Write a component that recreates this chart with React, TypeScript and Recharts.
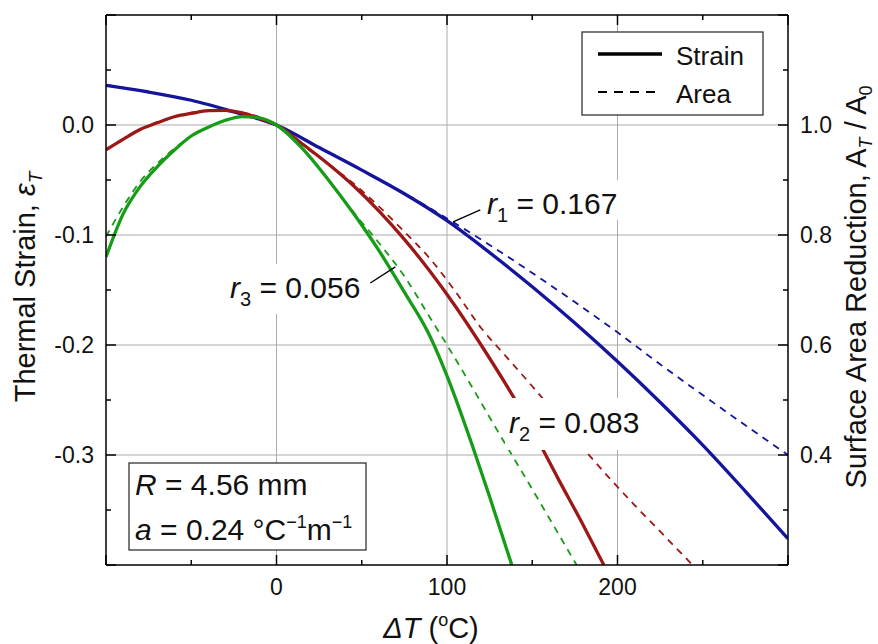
import { CartesianGrid, Line, LineChart, ReferenceLine, XAxis, YAxis } from 'recharts';

// ΔT grid and values, one pair of arrays per curve
const r1StrainT = [-100, -75, -50, -25, 0, 25, 50, 75, 100, 125, 150, 175, 200, 225, 250, 275, 300];
const r1Strain = [0.036, 0.03, 0.0225, 0.012, 0, -0.0205, -0.041, -0.0625, -0.087, -0.116, -0.147, -0.18, -0.215, -0.252, -0.291, -0.333, -0.376];
const r1AreaT = [-100, -75, -50, -25, 0, 25, 50, 75, 100, 125, 150, 175, 200, 225, 250, 275, 300];
const r1Area = [1.073, 1.06, 1.045, 1.024, 1.0, 0.959, 0.918, 0.876, 0.83, 0.782, 0.731, 0.678, 0.623, 0.565, 0.509, 0.454, 0.4];

const r2StrainT = [-100, -90, -80, -70, -60, -50, -40, -30, -20, -10, 0, 15, 30, 45, 60, 75, 90, 105, 120, 135, 150, 165, 180, 192];
const r2Strain = [-0.0225, -0.013, -0.004, 0.002, 0.0075, 0.0105, 0.013, 0.0133, 0.011, 0.006, 0, -0.017, -0.035, -0.055, -0.078, -0.104, -0.133, -0.165, -0.2, -0.237, -0.277, -0.321, -0.364, -0.4];
const r2AreaT = [-100, -80, -60, -40, -20, 0, 15, 30, 45, 60, 75, 90, 105, 120, 135, 150, 165, 180, 195, 210, 225, 244];
const r2Area = [0.955, 0.992, 1.015, 1.026, 1.022, 1.0, 0.964, 0.93, 0.894, 0.852, 0.806, 0.757, 0.697, 0.631, 0.578, 0.525, 0.47, 0.412, 0.359, 0.309, 0.261, 0.2];

const r3StrainT = [-100, -90, -80, -70, -60, -50, -40, -30, -20, -10, 0, 15, 30, 45, 60, 75, 90, 100, 115, 125, 138];
const r3Strain = [-0.12, -0.081, -0.056, -0.038, -0.023, -0.01, -0.002, 0.0043, 0.0077, 0.0065, 0, -0.021, -0.049, -0.08, -0.114, -0.152, -0.192, -0.228, -0.292, -0.338, -0.4];
const r3AreaT = [-100, -90, -80, -70, -60, -50, -40, -30, -20, -10, 0, 15, 30, 45, 60, 75, 90, 100, 115, 130, 145, 160, 176];
const r3Area = [0.797, 0.851, 0.897, 0.93, 0.957, 0.98, 0.996, 1.009, 1.015, 1.013, 1.0, 0.958, 0.903, 0.842, 0.786, 0.725, 0.65, 0.6, 0.522, 0.442, 0.364, 0.285, 0.2];

const xTicks = [-100, -50, 0, 50, 100, 150, 200, 250, 300];
const xLabels = [0, 100, 200];
const strainTicks = [-0.4, -0.35, -0.3, -0.25, -0.2, -0.15, -0.1, -0.05, 0, 0.05, 0.1];
const strainLabels = ['0.0', '-0.1', '-0.2', '-0.3'];
const areaTicks = [0.2, 0.3, 0.4, 0.5, 0.6, 0.7, 0.8, 0.9, 1.0, 1.1, 1.2];
const areaLabels = ['0.4', '0.6', '0.8', '1.0'];

const BLUE = '#14149c';
const RED = '#9e1717';
const GREEN = '#169c16';
const FONT = '"Liberation Sans", Arial, Helvetica, sans-serif';

const pts = (t: number[], v: number[]) => t.map((x, i) => ({ t: x, v: v[i] }));

const isMajor = (v: number, step: number) => Math.abs(v / step - Math.round(v / step)) < 1e-6;

const BottomTick = ({ x, y, payload }: any) => {
  const v = payload.value;
  const len = isMajor(v, 100) ? 10 : 5;
  return (
    <g>
      <line x1={x} x2={x} y1={y} y2={y - len} stroke="#000" strokeWidth={1.5} />
      {xLabels.includes(v) && (
        <text x={x} y={y + 30} textAnchor="middle" fontSize={23} fontFamily={FONT} fill="#111">
          {v}
        </text>
      )}
    </g>
  );
};

const TopTick = ({ x, y, payload }: any) => {
  const len = isMajor(payload.value, 100) ? 10 : 5;
  return <line x1={x} x2={x} y1={y} y2={y + len} stroke="#000" strokeWidth={1.5} />;
};

const LeftTick = ({ x, y, payload }: any) => {
  const v = payload.value;
  const major = isMajor(v, 0.1);
  const label = v.toFixed(1) === '-0.0' ? '0.0' : v.toFixed(1);
  return (
    <g>
      <line x1={x} x2={x + (major ? 10 : 5)} y1={y} y2={y} stroke="#000" strokeWidth={1.5} />
      {major && strainLabels.includes(label) && (
        <text x={x - 12} y={y + 8} textAnchor="end" fontSize={23} fontFamily={FONT} fill="#111">
          {label}
        </text>
      )}
    </g>
  );
};

const RightTick = ({ x, y, payload }: any) => {
  const v = payload.value;
  const major = isMajor(v, 0.2);
  const label = v.toFixed(1);
  return (
    <g>
      <line x1={x} x2={x - (major ? 10 : 5)} y1={y} y2={y} stroke="#000" strokeWidth={1.5} />
      {major && areaLabels.includes(label) && (
        <text x={x + 12} y={y + 8} textAnchor="start" fontSize={23} fontFamily={FONT} fill="#111">
          {label}
        </text>
      )}
    </g>
  );
};

const axisLine = { stroke: '#000', strokeWidth: 1.5 };

function Overlay() {
  return (
    <svg
      width={878}
      height={644}
      style={{ position: 'absolute', left: 0, top: 0, pointerEvents: 'none' }}
      fontFamily={FONT}
      fill="#111"
    >
      {/* axis titles */}
      <text transform="translate(35,287) rotate(-90)" textAnchor="middle" fontSize={29}>
        Thermal Strain, <tspan fontStyle="italic">ε</tspan>
        <tspan fontStyle="italic" fontSize={19} dy={7}>T</tspan>
      </text>
      <text transform="translate(866,287) rotate(-90)" textAnchor="middle" fontSize={29}>
        Surface Area Reduction, A<tspan fontStyle="italic" fontSize={18} dy={6}>T</tspan>
        <tspan dy={-6}> / A</tspan>
        <tspan fontSize={18} dy={6}>0</tspan>
      </text>
      <text x={431} y={638} textAnchor="middle" fontSize={29}>
        <tspan fontStyle="italic">ΔT</tspan> (<tspan fontSize={18} dy={-12}>o</tspan>
        <tspan dy={12}>C)</tspan>
      </text>

      {/* legend */}
      <rect x={582} y={32} width={181} height={83} fill="#fff" stroke="#222" strokeWidth={1.2} />
      <line x1={598} x2={662} y1={54} y2={54} stroke="#000" strokeWidth={3.5} />
      <line x1={598} x2={662} y1={92} y2={92} stroke="#000" strokeWidth={1.8} strokeDasharray="9 7" />
      <text x={676} y={65} fontSize={26}>Strain</text>
      <text x={676} y={103} fontSize={26}>Area</text>

      {/* parameter box */}
      <rect x={129} y={463} width={237} height={87} fill="#fff" stroke="#222" strokeWidth={1.2} />
      <text x={135} y={495} fontSize={30}>
        <tspan fontStyle="italic">R</tspan> = 4.56 mm
      </text>
      <text x={135} y={540} fontSize={30}>
        <tspan fontStyle="italic">a</tspan> = 0.24 °C<tspan fontSize={18} dy={-12}>−1</tspan>
        <tspan dy={12}>m</tspan>
        <tspan fontSize={18} dy={-12}>−1</tspan>
      </text>

      {/* curve labels */}
      <rect x={483} y={180} width={147} height={40} fill="#fff" />
      <text x={487} y={214} fontSize={30}>
        <tspan fontStyle="italic">r</tspan>
        <tspan fontSize={20} dy={8}>1</tspan>
        <tspan dy={-8}> = 0.167</tspan>
      </text>
      <rect x={226} y={264} width={142} height={50} fill="#fff" />
      <text x={230} y={298} fontSize={30}>
        <tspan fontStyle="italic">r</tspan>
        <tspan fontSize={20} dy={8}>3</tspan>
        <tspan dy={-8}> = 0.056</tspan>
      </text>
      <rect x={505} y={398} width={143} height={52} fill="#fff" />
      <text x={509} y={433} fontSize={30}>
        <tspan fontStyle="italic">r</tspan>
        <tspan fontSize={20} dy={8}>2</tspan>
        <tspan dy={-8}> = 0.083</tspan>
      </text>
    </svg>
  );
}

export default function App() {
  return (
    <div style={{ position: 'absolute', left: 0, top: 0, width: 878, height: 644, background: '#fff' }}>
      <LineChart width={878} height={644} margin={{ top: 0, right: 0, bottom: 0, left: 0 }}>
        <CartesianGrid
          xAxisId="b"
          yAxisId="l"
          horizontalValues={[0, -0.1, -0.2, -0.3]}
          verticalValues={[0, 100, 200]}
          stroke="#ababab"
          strokeWidth={1}
        />
        <XAxis
          xAxisId="b"
          type="number"
          dataKey="t"
          domain={[-100, 300]}
          ticks={xTicks}
          interval={0}
          height={79}
          tickSize={0}
          tickMargin={0}
          tickLine={false}
          axisLine={axisLine}
          tick={BottomTick}
          allowDataOverflow
        />
        <XAxis
          xAxisId="t"
          orientation="top"
          type="number"
          dataKey="t"
          domain={[-100, 300]}
          ticks={xTicks}
          interval={0}
          height={15}
          tickSize={0}
          tickMargin={0}
          tickLine={false}
          axisLine={axisLine}
          tick={TopTick}
          allowDataOverflow
        />
        <YAxis
          yAxisId="l"
          type="number"
          domain={[-0.4, 0.1]}
          ticks={strainTicks}
          interval={0}
          width={106}
          tickSize={0}
          tickMargin={0}
          tickLine={false}
          axisLine={axisLine}
          tick={LeftTick}
          allowDataOverflow
        />
        <YAxis
          yAxisId="r"
          orientation="right"
          type="number"
          domain={[0.2, 1.2]}
          ticks={areaTicks}
          interval={0}
          width={90}
          tickSize={0}
          tickMargin={0}
          tickLine={false}
          axisLine={axisLine}
          tick={RightTick}
          allowDataOverflow
        />

        <Line type="monotone" xAxisId="b" yAxisId="r" data={pts(r1AreaT, r1Area)} dataKey="v" stroke={BLUE} strokeWidth={1.8} strokeDasharray="7 6" dot={false} isAnimationActive={false} />
        <Line type="monotone" xAxisId="b" yAxisId="r" data={pts(r2AreaT, r2Area)} dataKey="v" stroke={RED} strokeWidth={1.8} strokeDasharray="7 6" dot={false} isAnimationActive={false} />
        <Line type="monotone" xAxisId="b" yAxisId="r" data={pts(r3AreaT, r3Area)} dataKey="v" stroke={GREEN} strokeWidth={1.8} strokeDasharray="7 6" dot={false} isAnimationActive={false} />
        <Line type="monotone" xAxisId="b" yAxisId="l" data={pts(r1StrainT, r1Strain)} dataKey="v" stroke={BLUE} strokeWidth={3.3} dot={false} isAnimationActive={false} />
        <Line type="monotone" xAxisId="b" yAxisId="l" data={pts(r2StrainT, r2Strain)} dataKey="v" stroke={RED} strokeWidth={3.3} dot={false} isAnimationActive={false} />
        <Line type="monotone" xAxisId="b" yAxisId="l" data={pts(r3StrainT, r3Strain)} dataKey="v" stroke={GREEN} strokeWidth={3.3} dot={false} isAnimationActive={false} />

        <ReferenceLine xAxisId="b" yAxisId="l" segment={[{ x: 103.6, y: -0.0881 }, { x: 119.5, y: -0.0772 }]} stroke="#000" strokeWidth={1.3} />
        <ReferenceLine xAxisId="b" yAxisId="l" segment={[{ x: 55, y: -0.1436 }, { x: 69.7, y: -0.129 }]} stroke="#000" strokeWidth={1.3} />
      </LineChart>
      <Overlay />
    </div>
  );
}
